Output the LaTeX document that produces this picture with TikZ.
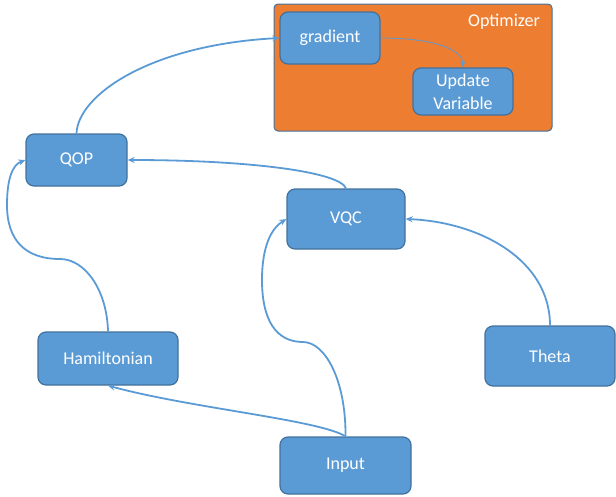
\documentclass[tikz,border=0pt]{standalone}
\usepackage{fontspec}
\setmainfont{Carlito}
\usetikzlibrary{arrows.meta}
\definecolor{boxblue}{RGB}{91,155,213}
\definecolor{boxedge}{RGB}{65,113,156}
\definecolor{optorange}{RGB}{237,125,49}

\begin{document}
\begin{tikzpicture}[x=1pt, y=-1pt,
    block/.style={draw=boxedge, fill=boxblue, line width=1.2pt, rounded corners=8pt,
        text=white, align=center, inner sep=0pt, font=\fontsize{18}{23}\selectfont},
    link/.style={draw=boxblue, line width=1.8pt, -{Stealth[length=7pt,width=6pt]}},
    thinlink/.style={draw=boxblue, line width=0.8pt, -{Stealth[length=6pt,width=5pt]}}]
    % Page frame
    \useasboundingbox (0,0) rectangle (616,496);

    % Optimizer region
    \draw[boxedge, fill=optorange, line width=1pt, rounded corners=4pt] (274,4) rectangle (552,131);
    \node[text=white, font=\fontsize{18}{23}\selectfont] (optlabel) at (504,22) {Optimizer};

    % Blocks
    \node[block, minimum width=100pt, minimum height=52pt] (gradient) at (330,38) {gradient};
    \node[block, minimum width=100pt, minimum height=47pt] (update) at (463,91.5) {Update\\Variable};
    \node[block, minimum width=101pt, minimum height=52pt] (qop) at (76.5,160) {QOP};
    \node[block, minimum width=118pt, minimum height=60pt] (vqc) at (346,219) {VQC};
    \node[block, minimum width=140pt, minimum height=53pt] (ham) at (108,358.5) {Hamiltonian};
    \node[block, minimum width=130pt, minimum height=60pt] (theta) at (550,356) {Theta};
    \node[block, minimum width=131pt, minimum height=57pt] (input) at (345.5,465.5) {Input};

    % Connectors
    \draw[link] (qop.north) .. controls (78,95) and (150,45) .. (gradient.west);
    \draw[thinlink] (gradient.east) .. controls (420,38) and (462,45) .. (update.north);
    \draw[link] (vqc.north) .. controls (340,172) and (250,160) .. (qop.east);
    \draw[link] (theta.north) .. controls (550,260) and (480,222) .. (vqc.east);
    \draw[link] (input.north) .. controls (320,420) and (190,408) .. (ham.south);
    \draw[link] (input.north) .. controls (346,380) and (325,342) .. (303,342)
        .. controls (276,342) and (262,320) .. (262,280)
        .. controls (262,245) and (272,228) .. (vqc.west);
    \draw[link] (ham.north) .. controls (107,290) and (85,259) .. (60,259)
        .. controls (25,259) and (7,240) .. (7,205)
        .. controls (7,180) and (12,165) .. (qop.west);
\end{tikzpicture}
\end{document}
